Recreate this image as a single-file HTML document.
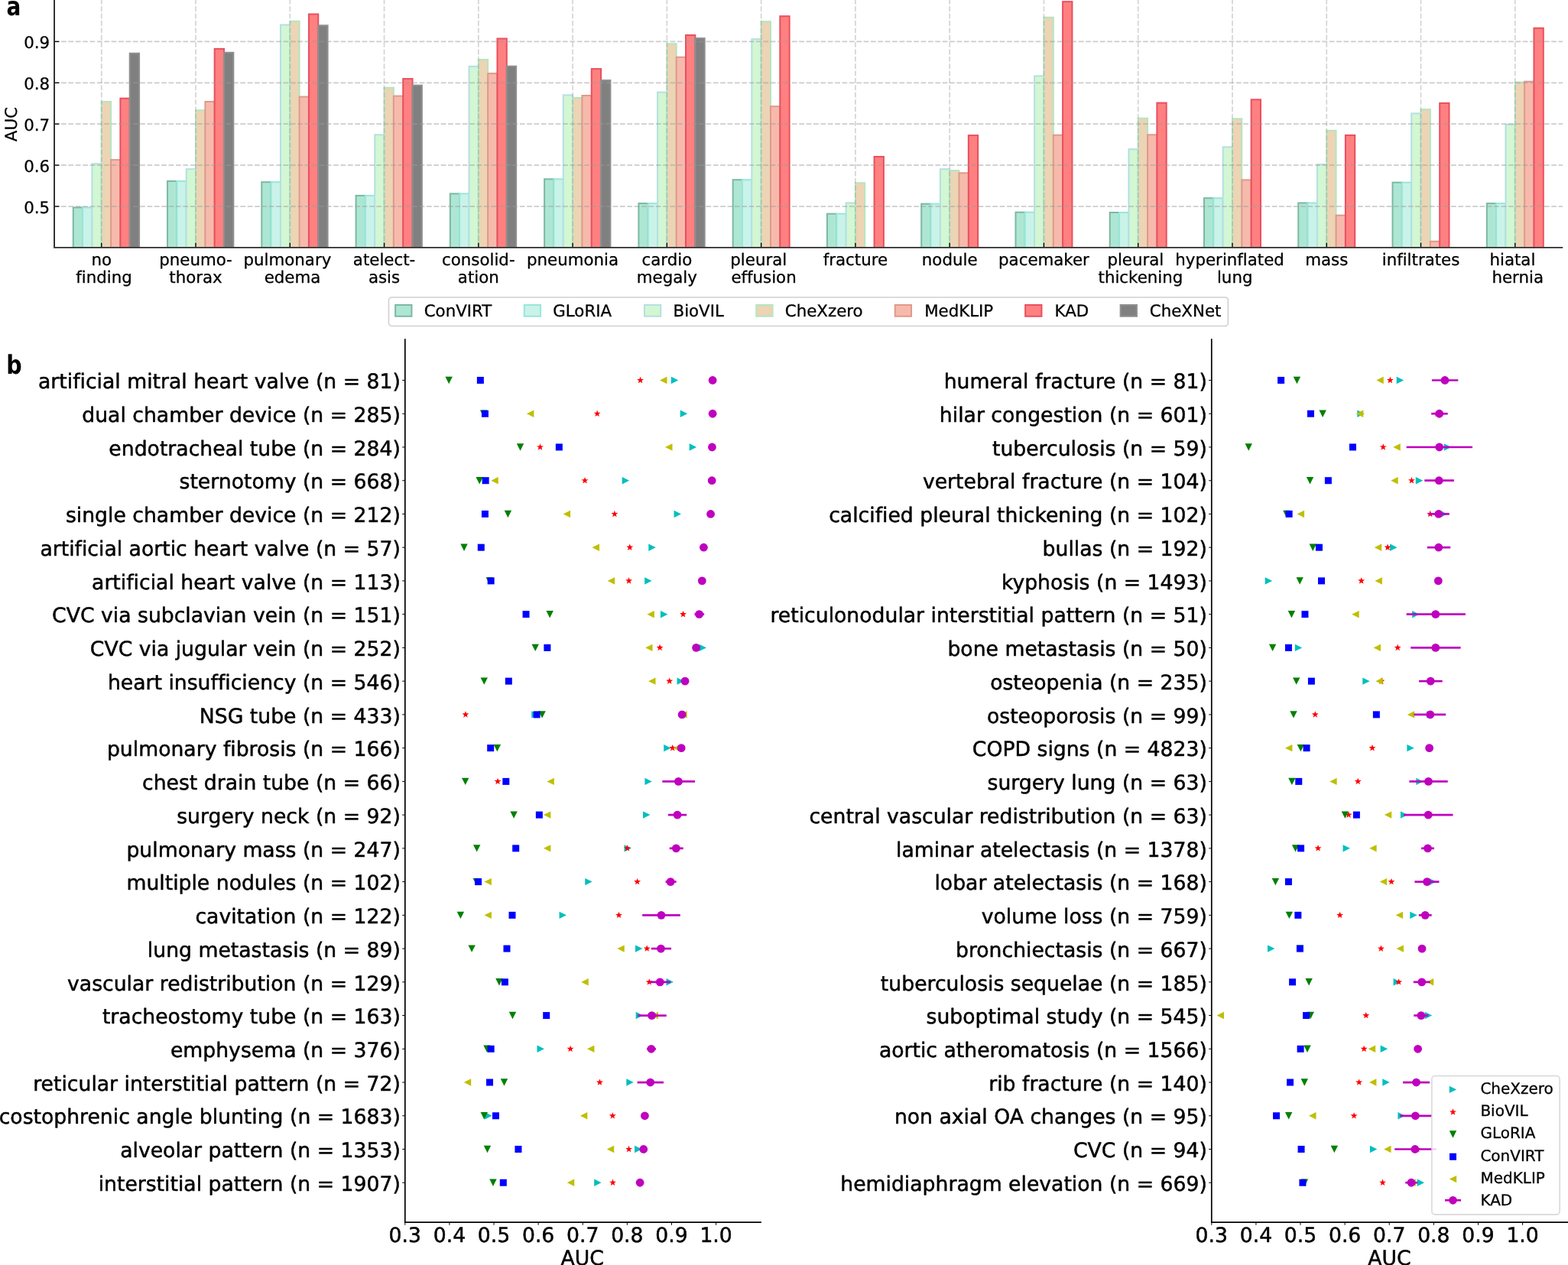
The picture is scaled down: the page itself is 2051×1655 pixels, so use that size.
<!DOCTYPE html>
<html lang="en"><head><meta charset="utf-8"><title>Figure</title>
<style>html,body{margin:0;padding:0;background:#fff}body{width:2051px;height:1655px;overflow:hidden}svg{display:block}</style>
</head><body>
<svg width="2051" height="1655" viewBox="0 0 2051 1655" font-family="'DejaVu Sans','Liberation Sans',sans-serif" text-rendering="geometricPrecision" style="font-variant-ligatures:none;font-kerning:normal">
<style>text{stroke:#000;stroke-width:0.3px;stroke-linejoin:round}.big text{stroke-width:0.5px}</style>
<rect width="2051" height="1655" fill="#fff"/>
<defs><clipPath id="axa"><rect x="71.05" y="-10" width="1973.15" height="333.85"/></clipPath></defs>
<g stroke-linejoin="miter" clip-path="url(#axa)">
<g fill="#ade7d4" stroke="#7db8a4" stroke-width="2.0">
<rect x="95.77" y="271.5" width="12.33" height="55.35"/>
<rect x="219.04" y="237" width="12.33" height="89.85"/>
<rect x="342.31" y="238.2" width="12.33" height="88.65"/>
<rect x="465.58" y="255.9" width="12.33" height="70.95"/>
<rect x="588.85" y="253.4" width="12.33" height="73.45"/>
<rect x="712.12" y="234.3" width="12.33" height="92.55"/>
<rect x="835.39" y="266.1" width="12.33" height="60.75"/>
<rect x="958.66" y="235.2" width="12.33" height="91.65"/>
<rect x="1081.93" y="279.7" width="12.33" height="47.15"/>
<rect x="1205.2" y="266.7" width="12.33" height="60.15"/>
<rect x="1328.47" y="277.7" width="12.33" height="49.15"/>
<rect x="1451.74" y="278" width="12.33" height="48.85"/>
<rect x="1575.01" y="259.2" width="12.33" height="67.65"/>
<rect x="1698.28" y="265.5" width="12.33" height="61.35"/>
<rect x="1821.55" y="238.7" width="12.33" height="88.15"/>
<rect x="1944.82" y="266.1" width="12.33" height="60.75"/>
</g>
<g fill="#c9f3e9" stroke="#98e7d9" stroke-width="2.0">
<rect x="108.1" y="271.5" width="12.33" height="55.35"/>
<rect x="231.37" y="237" width="12.33" height="89.85"/>
<rect x="354.64" y="238.2" width="12.33" height="88.65"/>
<rect x="477.91" y="255.9" width="12.33" height="70.95"/>
<rect x="601.18" y="253.4" width="12.33" height="73.45"/>
<rect x="724.45" y="234.3" width="12.33" height="92.55"/>
<rect x="847.72" y="266.1" width="12.33" height="60.75"/>
<rect x="970.99" y="235.2" width="12.33" height="91.65"/>
<rect x="1094.26" y="279.7" width="12.33" height="47.15"/>
<rect x="1217.53" y="266.7" width="12.33" height="60.15"/>
<rect x="1340.8" y="277.7" width="12.33" height="49.15"/>
<rect x="1464.07" y="278" width="12.33" height="48.85"/>
<rect x="1587.34" y="259.2" width="12.33" height="67.65"/>
<rect x="1710.61" y="265.5" width="12.33" height="61.35"/>
<rect x="1833.88" y="238.7" width="12.33" height="88.15"/>
<rect x="1957.15" y="266.1" width="12.33" height="60.75"/>
</g>
<g fill="#d3f6d3" stroke="#b4e0e3" stroke-width="2.0">
<rect x="120.42" y="214.3" width="12.33" height="112.55"/>
<rect x="243.69" y="221.2" width="12.33" height="105.65"/>
<rect x="366.96" y="32.5" width="12.33" height="294.35"/>
<rect x="490.23" y="176.3" width="12.33" height="150.55"/>
<rect x="613.5" y="86.9" width="12.33" height="239.95"/>
<rect x="736.77" y="124.4" width="12.33" height="202.45"/>
<rect x="860.04" y="120.7" width="12.33" height="206.15"/>
<rect x="983.31" y="51.2" width="12.33" height="275.65"/>
<rect x="1106.58" y="265.5" width="12.33" height="61.35"/>
<rect x="1229.85" y="221.2" width="12.33" height="105.65"/>
<rect x="1353.12" y="99.4" width="12.33" height="227.45"/>
<rect x="1476.39" y="195.2" width="12.33" height="131.65"/>
<rect x="1599.66" y="192.3" width="12.33" height="134.55"/>
<rect x="1722.93" y="215.1" width="12.33" height="111.75"/>
<rect x="1846.2" y="148.4" width="12.33" height="178.45"/>
<rect x="1969.47" y="162.8" width="12.33" height="164.05"/>
</g>
<g fill="#ecd4b4" stroke="#b3e6c0" stroke-width="2.0">
<rect x="132.75" y="133" width="12.33" height="193.85"/>
<rect x="256.02" y="144.3" width="12.33" height="182.55"/>
<rect x="379.29" y="27.8" width="12.33" height="299.05"/>
<rect x="502.56" y="114.7" width="12.33" height="212.15"/>
<rect x="625.83" y="78" width="12.33" height="248.85"/>
<rect x="749.1" y="127.9" width="12.33" height="198.95"/>
<rect x="872.37" y="57.3" width="12.33" height="269.55"/>
<rect x="995.64" y="28.2" width="12.33" height="298.65"/>
<rect x="1118.91" y="239.3" width="12.33" height="87.55"/>
<rect x="1242.18" y="223.1" width="12.33" height="103.75"/>
<rect x="1365.45" y="22.7" width="12.33" height="304.15"/>
<rect x="1488.72" y="154.8" width="12.33" height="172.05"/>
<rect x="1611.99" y="155.4" width="12.33" height="171.45"/>
<rect x="1735.26" y="170.8" width="12.33" height="156.05"/>
<rect x="1858.53" y="143.1" width="12.33" height="183.75"/>
<rect x="1981.8" y="107.6" width="12.33" height="219.25"/>
</g>
<g fill="#f6baac" stroke="#e0998b" stroke-width="2.0">
<rect x="145.08" y="209.1" width="12.33" height="117.75"/>
<rect x="268.35" y="133" width="12.33" height="193.85"/>
<rect x="391.62" y="126.6" width="12.33" height="200.25"/>
<rect x="514.89" y="125.6" width="12.33" height="201.25"/>
<rect x="638.16" y="96.1" width="12.33" height="230.75"/>
<rect x="761.43" y="125" width="12.33" height="201.85"/>
<rect x="884.7" y="74.8" width="12.33" height="252.05"/>
<rect x="1007.97" y="139.2" width="12.33" height="187.65"/>
<rect x="1254.51" y="226.3" width="12.33" height="100.55"/>
<rect x="1377.78" y="176.7" width="12.33" height="150.15"/>
<rect x="1501.05" y="176.3" width="12.33" height="150.55"/>
<rect x="1624.32" y="235.4" width="12.33" height="91.45"/>
<rect x="1747.59" y="281.7" width="12.33" height="45.15"/>
<rect x="1870.86" y="315.8" width="12.33" height="11.05"/>
<rect x="1994.13" y="106.7" width="12.33" height="220.15"/>
</g>
<g fill="#ff8080" stroke="#e85060" stroke-width="2.0">
<rect x="157.4" y="128.7" width="12.33" height="198.15"/>
<rect x="280.67" y="63.9" width="12.33" height="262.95"/>
<rect x="403.94" y="18.5" width="12.33" height="308.35"/>
<rect x="527.21" y="103.1" width="12.33" height="223.75"/>
<rect x="650.48" y="50.5" width="12.33" height="276.35"/>
<rect x="773.75" y="90.1" width="12.33" height="236.75"/>
<rect x="897.02" y="46" width="12.33" height="280.85"/>
<rect x="1020.29" y="21.2" width="12.33" height="305.65"/>
<rect x="1143.56" y="205" width="12.33" height="121.85"/>
<rect x="1266.83" y="177.1" width="12.33" height="149.75"/>
<rect x="1390.1" y="2.15" width="12.33" height="324.7"/>
<rect x="1513.37" y="134.6" width="12.33" height="192.25"/>
<rect x="1636.64" y="130.3" width="12.33" height="196.55"/>
<rect x="1759.91" y="176.9" width="12.33" height="149.95"/>
<rect x="1883.18" y="134.9" width="12.33" height="191.95"/>
<rect x="2006.45" y="36.8" width="12.33" height="290.05"/>
</g>
<g fill="#808080" stroke="#8f8f8f" stroke-width="2.0">
<rect x="169.73" y="69.8" width="12.33" height="257.05"/>
<rect x="293" y="68.8" width="12.33" height="258.05"/>
<rect x="416.27" y="33.3" width="12.33" height="293.55"/>
<rect x="539.54" y="111.7" width="12.33" height="215.15"/>
<rect x="662.81" y="86.7" width="12.33" height="240.15"/>
<rect x="786.08" y="105.1" width="12.33" height="221.75"/>
<rect x="909.35" y="50.1" width="12.33" height="276.75"/>
</g>
</g>
<g stroke="#999" stroke-opacity="0.5" stroke-width="1.8" stroke-dasharray="6.7 2.671" fill="none">
<path d="M70.7 270.04H2044.2"/>
<path d="M70.7 216.13H2044.2"/>
<path d="M70.7 162.22H2044.2"/>
<path d="M70.7 108.31H2044.2"/>
<path d="M70.7 54.4H2044.2"/>
</g>
<g stroke="#999" stroke-opacity="0.42" stroke-width="1.7" stroke-dasharray="6.7 2.673" fill="none">
<path d="M132.75 324.3V-10"/>
<path d="M256.02 324.3V-10"/>
<path d="M379.29 324.3V-10"/>
<path d="M502.56 324.3V-10"/>
<path d="M625.83 324.3V-10"/>
<path d="M749.1 324.3V-10"/>
<path d="M872.37 324.3V-10"/>
<path d="M995.64 324.3V-10"/>
<path d="M1118.91 324.3V-10"/>
<path d="M1242.18 324.3V-10"/>
<path d="M1365.45 324.3V-10"/>
<path d="M1488.72 324.3V-10"/>
<path d="M1611.99 324.3V-10"/>
<path d="M1735.26 324.3V-10"/>
<path d="M1858.53 324.3V-10"/>
<path d="M1981.8 324.3V-10"/>
</g>
<g stroke="#000" stroke-width="1.3" fill="none">
<path d="M132.75 323.85v-6.2"/>
<path d="M256.02 323.85v-6.2"/>
<path d="M379.29 323.85v-6.2"/>
<path d="M502.56 323.85v-6.2"/>
<path d="M625.83 323.85v-6.2"/>
<path d="M749.1 323.85v-6.2"/>
<path d="M872.37 323.85v-6.2"/>
<path d="M995.64 323.85v-6.2"/>
<path d="M1118.91 323.85v-6.2"/>
<path d="M1242.18 323.85v-6.2"/>
<path d="M1365.45 323.85v-6.2"/>
<path d="M1488.72 323.85v-6.2"/>
<path d="M1611.99 323.85v-6.2"/>
<path d="M1735.26 323.85v-6.2"/>
<path d="M1858.53 323.85v-6.2"/>
<path d="M1981.8 323.85v-6.2"/>
<path d="M71.05 270.04h6.4"/>
<path d="M71.05 216.13h6.4"/>
<path d="M71.05 162.22h6.4"/>
<path d="M71.05 108.31h6.4"/>
<path d="M71.05 54.4h6.4"/>
</g>
<path d="M71.05 -5V323.85H2043.3" stroke="#2b2b2b" stroke-width="1.9" fill="none" stroke-linecap="square"/>
<g font-size="21.33" text-anchor="end" fill="#000">
<text x="65.1" y="278.54">0.5</text>
<text x="65.1" y="224.63">0.6</text>
<text x="65.1" y="170.72">0.7</text>
<text x="65.1" y="116.81">0.8</text>
<text x="65.1" y="62.9">0.9</text>
</g>
<g font-size="21.33" text-anchor="middle" fill="#000">
<text x="132.75" y="346.9">no</text>
<text x="136.05" y="370.2">finding</text>
<text x="256.02" y="346.9">pneumo-</text>
<text x="256.02" y="370.2">thorax</text>
<text x="375.89" y="346.9">pulmonary</text>
<text x="382.49" y="370.2">edema</text>
<text x="502.56" y="346.9">atelect-</text>
<text x="502.56" y="370.2">asis</text>
<text x="625.83" y="346.9">consolid-</text>
<text x="625.83" y="370.2">ation</text>
<text x="749.1" y="346.9">pneumonia</text>
<text x="872.37" y="346.9">cardio</text>
<text x="872.37" y="370.2">megaly</text>
<text x="992.24" y="346.9">pleural</text>
<text x="999.04" y="370.2">effusion</text>
<text x="1118.91" y="346.9">fracture</text>
<text x="1242.18" y="346.9">nodule</text>
<text x="1365.45" y="346.9">pacemaker</text>
<text x="1485.32" y="346.9">pleural</text>
<text x="1491.92" y="370.2">thickening</text>
<text x="1608.59" y="346.9">hyperinflated</text>
<text x="1615.19" y="370.2">lung</text>
<text x="1735.26" y="346.9">mass</text>
<text x="1858.53" y="346.9">infiltrates</text>
<text x="1978.4" y="346.9">hiatal</text>
<text x="1985.2" y="370.2">hernia</text>
</g>
<text transform="translate(21.6 162.6) rotate(-90)" font-size="21.33" text-anchor="middle" fill="#000">AUC</text>
<text transform="translate(8.4 19.8) scale(0.82 1)" font-weight="bold" font-size="34" fill="#000" style="stroke-width:0">a</text>
<text transform="translate(8.2 489.0) scale(0.84 1)" font-weight="bold" font-size="34" fill="#000" style="stroke-width:0">b</text>
<rect x="508.5" y="389" width="1097.9" height="37.5" rx="4" ry="4" fill="#fff" fill-opacity="0.8" stroke="#d0d0d0" stroke-width="1.6"/>
<rect x="517.15" y="399.0" width="21.3" height="14.8" fill="#ade7d4" stroke="#7db8a4" stroke-width="2.0"/>
<text x="554.73" y="413.8" font-size="21.33" fill="#000">ConVIRT</text>
<rect x="685.75" y="399.0" width="21.3" height="14.8" fill="#c9f3e9" stroke="#98e7d9" stroke-width="2.0"/>
<text x="723.33" y="413.8" font-size="21.33" fill="#000">GLoRIA</text>
<rect x="842.95" y="399.0" width="21.3" height="14.8" fill="#d3f6d3" stroke="#b4e0e3" stroke-width="2.0"/>
<text x="880.53" y="413.8" font-size="21.33" fill="#000">BioVIL</text>
<rect x="989.25" y="399.0" width="21.3" height="14.8" fill="#ecd4b4" stroke="#b3e6c0" stroke-width="2.0"/>
<text x="1026.83" y="413.8" font-size="21.33" fill="#000">CheXzero</text>
<rect x="1170.75" y="399.0" width="21.3" height="14.8" fill="#f6baac" stroke="#e0998b" stroke-width="2.0"/>
<text x="1209.13" y="413.8" font-size="21.33" fill="#000">MedKLIP</text>
<rect x="1341.15" y="399.0" width="21.3" height="14.8" fill="#ff8080" stroke="#e85060" stroke-width="2.0"/>
<text x="1379.53" y="413.8" font-size="21.33" fill="#000">KAD</text>
<rect x="1465.65" y="399.0" width="21.3" height="14.8" fill="#808080" stroke="#8f8f8f" stroke-width="2.0"/>
<text x="1503.83" y="413.8" font-size="21.33" fill="#000">CheXNet</text>
<g>
<path d="M887.22 497.5L877.82 492.8V502.2Z" fill="#00bfbf"/>
<path d="M899.15 541.24L889.75 536.54V545.94Z" fill="#00bfbf"/>
<path d="M911.09 584.98L901.69 580.28V589.68Z" fill="#00bfbf"/>
<path d="M823.09 628.72L813.69 624.02V633.42Z" fill="#00bfbf"/>
<path d="M890.96 672.46L881.56 667.76V677.16Z" fill="#00bfbf"/>
<path d="M857.73 716.2L848.33 711.5V720.9Z" fill="#00bfbf"/>
<path d="M852.58 759.94L843.18 755.24V764.64Z" fill="#00bfbf"/>
<path d="M873.41 803.68L864.01 798.98V808.38Z" fill="#00bfbf"/>
<path d="M923.96 847.42L914.56 842.72V852.12Z" fill="#00bfbf"/>
<path d="M894.94 891.16L885.54 886.46V895.86Z" fill="#00bfbf"/>
<path d="M704.67 934.9L695.27 930.2V939.6Z" fill="#00bfbf"/>
<path d="M877.62 978.64L868.22 973.94V983.34Z" fill="#00bfbf"/>
<path d="M852.81 1022.38L843.41 1017.68V1027.08Z" fill="#00bfbf"/>
<path d="M850.47 1066.12L841.07 1061.42V1070.82Z" fill="#00bfbf"/>
<path d="M825.9 1109.86L816.5 1105.16V1114.56Z" fill="#00bfbf"/>
<path d="M774.65 1153.6L765.25 1148.9V1158.3Z" fill="#00bfbf"/>
<path d="M740.95 1197.34L731.55 1192.64V1202.04Z" fill="#00bfbf"/>
<path d="M840.41 1241.08L831.01 1236.38V1245.78Z" fill="#00bfbf"/>
<path d="M880.9 1284.82L871.5 1280.12V1289.52Z" fill="#00bfbf"/>
<path d="M841.11 1328.56L831.71 1323.86V1333.26Z" fill="#00bfbf"/>
<path d="M711.93 1372.3L702.53 1367.6V1377Z" fill="#00bfbf"/>
<path d="M828.71 1416.04L819.31 1411.34V1420.74Z" fill="#00bfbf"/>
<path d="M643.59 1459.78L634.19 1455.08V1464.48Z" fill="#00bfbf"/>
<path d="M839.47 1503.52L830.07 1498.82V1508.22Z" fill="#00bfbf"/>
<path d="M786.58 1547.26L777.18 1542.56V1551.96Z" fill="#00bfbf"/>
<path d="M837.58 492.85L838.73 495.92L842 496.06L839.44 498.1L840.31 501.26L837.58 499.45L834.85 501.26L835.72 498.1L833.16 496.06L836.43 495.92Z" fill="#ff0000"/>
<path d="M781.18 536.59L782.33 539.66L785.6 539.8L783.04 541.84L783.91 545L781.18 543.19L778.45 545L779.32 541.84L776.76 539.8L780.03 539.66Z" fill="#ff0000"/>
<path d="M706.52 580.33L707.67 583.4L710.95 583.54L708.38 585.58L709.26 588.74L706.52 586.93L703.79 588.74L704.67 585.58L702.1 583.54L705.38 583.4Z" fill="#ff0000"/>
<path d="M765.03 624.07L766.18 627.14L769.45 627.28L766.89 629.32L767.76 632.48L765.03 630.67L762.3 632.48L763.17 629.32L760.61 627.28L763.88 627.14Z" fill="#ff0000"/>
<path d="M803.88 667.81L805.03 670.88L808.3 671.02L805.74 673.06L806.61 676.22L803.88 674.41L801.15 676.22L802.02 673.06L799.46 671.02L802.73 670.88Z" fill="#ff0000"/>
<path d="M823.77 711.55L824.92 714.62L828.2 714.76L825.63 716.8L826.51 719.96L823.77 718.15L821.04 719.96L821.92 716.8L819.35 714.76L822.63 714.62Z" fill="#ff0000"/>
<path d="M822.6 755.29L823.75 758.36L827.03 758.5L824.46 760.54L825.34 763.7L822.6 761.89L819.87 763.7L820.75 760.54L818.18 758.5L821.46 758.36Z" fill="#ff0000"/>
<path d="M893.52 799.03L894.66 802.1L897.94 802.24L895.37 804.28L896.25 807.44L893.52 805.63L890.78 807.44L891.66 804.28L889.09 802.24L892.37 802.1Z" fill="#ff0000"/>
<path d="M863.09 842.77L864.24 845.84L867.51 845.98L864.95 848.02L865.82 851.18L863.09 849.37L860.36 851.18L861.23 848.02L858.67 845.98L861.94 845.84Z" fill="#ff0000"/>
<path d="M875.73 886.51L876.88 889.58L880.15 889.72L877.59 891.76L878.46 894.92L875.73 893.11L873 894.92L873.87 891.76L871.31 889.72L874.58 889.58Z" fill="#ff0000"/>
<path d="M608.93 930.25L610.08 933.32L613.35 933.46L610.79 935.5L611.67 938.66L608.93 936.85L606.2 938.66L607.07 935.5L604.51 933.46L607.78 933.32Z" fill="#ff0000"/>
<path d="M879.71 973.99L880.86 977.06L884.13 977.2L881.56 979.24L882.44 982.4L879.71 980.59L876.97 982.4L877.85 979.24L875.29 977.2L878.56 977.06Z" fill="#ff0000"/>
<path d="M651.06 1017.73L652.21 1020.8L655.48 1020.94L652.92 1022.98L653.79 1026.14L651.06 1024.33L648.32 1026.14L649.2 1022.98L646.64 1020.94L649.91 1020.8Z" fill="#ff0000"/>
<path d="M886.03 1061.47L887.17 1064.54L890.45 1064.68L887.88 1066.72L888.76 1069.88L886.03 1068.07L883.29 1069.88L884.17 1066.72L881.6 1064.68L884.88 1064.54Z" fill="#ff0000"/>
<path d="M820.5 1105.21L821.65 1108.28L824.92 1108.42L822.35 1110.46L823.23 1113.62L820.5 1111.81L817.76 1113.62L818.64 1110.46L816.07 1108.42L819.35 1108.28Z" fill="#ff0000"/>
<path d="M833.6 1148.95L834.75 1152.02L838.03 1152.16L835.46 1154.2L836.34 1157.36L833.6 1155.55L830.87 1157.36L831.75 1154.2L829.18 1152.16L832.46 1152.02Z" fill="#ff0000"/>
<path d="M809.5 1192.69L810.65 1195.76L813.92 1195.9L811.36 1197.94L812.23 1201.1L809.5 1199.29L806.76 1201.1L807.64 1197.94L805.08 1195.9L808.35 1195.76Z" fill="#ff0000"/>
<path d="M846.24 1236.43L847.39 1239.5L850.66 1239.64L848.1 1241.68L848.97 1244.84L846.24 1243.03L843.51 1244.84L844.38 1241.68L841.82 1239.64L845.09 1239.5Z" fill="#ff0000"/>
<path d="M849.28 1280.17L850.43 1283.24L853.71 1283.38L851.14 1285.42L852.02 1288.58L849.28 1286.77L846.55 1288.58L847.43 1285.42L844.86 1283.38L848.14 1283.24Z" fill="#ff0000"/>
<path d="M852.56 1323.91L853.71 1326.98L856.98 1327.12L854.42 1329.16L855.29 1332.32L852.56 1330.51L849.83 1332.32L850.7 1329.16L848.14 1327.12L851.41 1326.98Z" fill="#ff0000"/>
<path d="M746.08 1367.65L747.22 1370.72L750.5 1370.86L747.93 1372.9L748.81 1376.06L746.08 1374.25L743.34 1376.06L744.22 1372.9L741.65 1370.86L744.93 1370.72Z" fill="#ff0000"/>
<path d="M784.46 1411.39L785.6 1414.46L788.88 1414.6L786.31 1416.64L787.19 1419.8L784.46 1417.99L781.72 1419.8L782.6 1416.64L780.03 1414.6L783.31 1414.46Z" fill="#ff0000"/>
<path d="M801.31 1455.13L802.45 1458.2L805.73 1458.34L803.16 1460.38L804.04 1463.54L801.31 1461.73L798.57 1463.54L799.45 1460.38L796.88 1458.34L800.16 1458.2Z" fill="#ff0000"/>
<path d="M822.6 1498.87L823.75 1501.94L827.03 1502.08L824.46 1504.12L825.34 1507.28L822.6 1505.47L819.87 1507.28L820.75 1504.12L818.18 1502.08L821.46 1501.94Z" fill="#ff0000"/>
<path d="M801.54 1542.61L802.69 1545.68L805.96 1545.82L803.4 1547.86L804.27 1551.02L801.54 1549.21L798.81 1551.02L799.68 1547.86L797.12 1545.82L800.39 1545.68Z" fill="#ff0000"/>
<path d="M587.17 502.2L582.47 492.8H591.87Z" fill="#008000"/>
<path d="M632.57 545.94L627.87 536.54H637.27Z" fill="#008000"/>
<path d="M680.55 589.68L675.85 580.28H685.25Z" fill="#008000"/>
<path d="M627.19 633.42L622.49 624.02H631.89Z" fill="#008000"/>
<path d="M664.4 677.16L659.7 667.76H669.1Z" fill="#008000"/>
<path d="M607.06 720.9L602.36 711.5H611.76Z" fill="#008000"/>
<path d="M640.29 764.64L635.59 755.24H644.99Z" fill="#008000"/>
<path d="M719.16 808.38L714.46 798.98H723.86Z" fill="#008000"/>
<path d="M700.2 852.12L695.5 842.72H704.9Z" fill="#008000"/>
<path d="M633.27 895.86L628.57 886.46H637.97Z" fill="#008000"/>
<path d="M709.1 939.6L704.4 930.2H713.8Z" fill="#008000"/>
<path d="M650.36 983.34L645.66 973.94H655.06Z" fill="#008000"/>
<path d="M608.7 1027.08L604 1017.68H613.4Z" fill="#008000"/>
<path d="M672.12 1070.82L667.42 1061.42H676.82Z" fill="#008000"/>
<path d="M623.68 1114.56L618.98 1105.16H628.38Z" fill="#008000"/>
<path d="M623.21 1158.3L618.51 1148.9H627.91Z" fill="#008000"/>
<path d="M602.38 1202.04L597.68 1192.64H607.08Z" fill="#008000"/>
<path d="M617.12 1245.78L612.42 1236.38H621.82Z" fill="#008000"/>
<path d="M652.93 1289.52L648.23 1280.12H657.63Z" fill="#008000"/>
<path d="M670.48 1333.26L665.78 1323.86H675.18Z" fill="#008000"/>
<path d="M637.02 1377L632.32 1367.6H641.72Z" fill="#008000"/>
<path d="M659.48 1420.74L654.78 1411.34H664.18Z" fill="#008000"/>
<path d="M633.27 1464.48L628.57 1455.08H637.97Z" fill="#008000"/>
<path d="M637.48 1508.22L632.78 1498.82H642.18Z" fill="#008000"/>
<path d="M644.97 1551.96L640.27 1542.56H649.67Z" fill="#008000"/>
<rect x="623.86" y="493" width="9" height="9" fill="#0000ff"/>
<rect x="629.94" y="536.74" width="9" height="9" fill="#0000ff"/>
<rect x="726.83" y="580.48" width="9" height="9" fill="#0000ff"/>
<rect x="630.64" y="624.22" width="9" height="9" fill="#0000ff"/>
<rect x="629.94" y="667.96" width="9" height="9" fill="#0000ff"/>
<rect x="624.79" y="711.7" width="9" height="9" fill="#0000ff"/>
<rect x="637.66" y="755.44" width="9" height="9" fill="#0000ff"/>
<rect x="683.54" y="799.18" width="9" height="9" fill="#0000ff"/>
<rect x="711.38" y="842.92" width="9" height="9" fill="#0000ff"/>
<rect x="660.83" y="886.66" width="9" height="9" fill="#0000ff"/>
<rect x="697.58" y="930.4" width="9" height="9" fill="#0000ff"/>
<rect x="637.2" y="974.14" width="9" height="9" fill="#0000ff"/>
<rect x="657.32" y="1017.88" width="9" height="9" fill="#0000ff"/>
<rect x="700.85" y="1061.62" width="9" height="9" fill="#0000ff"/>
<rect x="670.2" y="1105.36" width="9" height="9" fill="#0000ff"/>
<rect x="621.05" y="1149.1" width="9" height="9" fill="#0000ff"/>
<rect x="665.51" y="1192.84" width="9" height="9" fill="#0000ff"/>
<rect x="658.49" y="1236.58" width="9" height="9" fill="#0000ff"/>
<rect x="655.92" y="1280.32" width="9" height="9" fill="#0000ff"/>
<rect x="710.21" y="1324.06" width="9" height="9" fill="#0000ff"/>
<rect x="637.66" y="1367.8" width="9" height="9" fill="#0000ff"/>
<rect x="636.03" y="1411.54" width="9" height="9" fill="#0000ff"/>
<rect x="643.98" y="1455.28" width="9" height="9" fill="#0000ff"/>
<rect x="673.47" y="1499.02" width="9" height="9" fill="#0000ff"/>
<rect x="653.81" y="1542.76" width="9" height="9" fill="#0000ff"/>
<path d="M863.07 497.5L872.47 492.8V502.2Z" fill="#bfbf00"/>
<path d="M688.95 541.24L698.35 536.54V545.94Z" fill="#bfbf00"/>
<path d="M870.09 584.98L879.49 580.28V589.68Z" fill="#bfbf00"/>
<path d="M642.38 628.72L651.78 624.02V633.42Z" fill="#bfbf00"/>
<path d="M736.69 672.46L746.09 667.76V677.16Z" fill="#bfbf00"/>
<path d="M774.61 716.2L784.01 711.5V720.9Z" fill="#bfbf00"/>
<path d="M794.73 759.94L804.13 755.24V764.64Z" fill="#bfbf00"/>
<path d="M846.46 803.68L855.86 798.98V808.38Z" fill="#bfbf00"/>
<path d="M844.12 847.42L853.52 842.72V852.12Z" fill="#bfbf00"/>
<path d="M848.09 891.16L857.49 886.46V895.86Z" fill="#bfbf00"/>
<path d="M889.28 934.9L898.68 930.2V939.6Z" fill="#bfbf00"/>
<path d="M880.39 978.64L889.79 973.94V983.34Z" fill="#bfbf00"/>
<path d="M715.4 1022.38L724.8 1017.68V1027.08Z" fill="#bfbf00"/>
<path d="M710.95 1066.12L720.35 1061.42V1070.82Z" fill="#bfbf00"/>
<path d="M710.95 1109.86L720.35 1105.16V1114.56Z" fill="#bfbf00"/>
<path d="M633.49 1153.6L642.89 1148.9V1158.3Z" fill="#bfbf00"/>
<path d="M633.49 1197.34L642.89 1192.64V1202.04Z" fill="#bfbf00"/>
<path d="M807.37 1241.08L816.77 1236.38V1245.78Z" fill="#bfbf00"/>
<path d="M760.33 1284.82L769.73 1280.12V1289.52Z" fill="#bfbf00"/>
<path d="M851.6 1328.56L861 1323.86V1333.26Z" fill="#bfbf00"/>
<path d="M768.05 1372.3L777.45 1367.6V1377Z" fill="#bfbf00"/>
<path d="M606.81 1416.04L616.21 1411.34V1420.74Z" fill="#bfbf00"/>
<path d="M758.93 1459.78L768.33 1455.08V1464.48Z" fill="#bfbf00"/>
<path d="M793.8 1503.52L803.2 1498.82V1508.22Z" fill="#bfbf00"/>
<path d="M741.84 1547.26L751.24 1542.56V1551.96Z" fill="#bfbf00"/>
<circle cx="932.13" cy="497.5" r="5.4" fill="#bf00bf"/>
<circle cx="932.13" cy="541.24" r="5.4" fill="#bf00bf"/>
<circle cx="931.43" cy="584.98" r="5.4" fill="#bf00bf"/>
<circle cx="931.19" cy="628.72" r="5.4" fill="#bf00bf"/>
<circle cx="929.56" cy="672.46" r="5.4" fill="#bf00bf"/>
<circle cx="920.43" cy="716.2" r="5.4" fill="#bf00bf"/>
<circle cx="918.32" cy="759.94" r="5.4" fill="#bf00bf"/>
<path d="M908.49 803.68H921.13" stroke="#bf00bf" stroke-width="2.7" fill="none"/>
<circle cx="914.58" cy="803.68" r="5.4" fill="#bf00bf"/>
<circle cx="910.6" cy="847.42" r="5.4" fill="#bf00bf"/>
<circle cx="896.09" cy="891.16" r="5.4" fill="#bf00bf"/>
<circle cx="892.11" cy="934.9" r="5.4" fill="#bf00bf"/>
<circle cx="891.18" cy="978.64" r="5.4" fill="#bf00bf"/>
<path d="M866.37 1022.38H908.96" stroke="#bf00bf" stroke-width="2.7" fill="none"/>
<circle cx="887.43" cy="1022.38" r="5.4" fill="#bf00bf"/>
<path d="M873.86 1066.12H898.2" stroke="#bf00bf" stroke-width="2.7" fill="none"/>
<circle cx="886.03" cy="1066.12" r="5.4" fill="#bf00bf"/>
<path d="M875.73 1109.86H893.75" stroke="#bf00bf" stroke-width="2.7" fill="none"/>
<circle cx="884.39" cy="1109.86" r="5.4" fill="#bf00bf"/>
<path d="M870.58 1153.6H884.62" stroke="#bf00bf" stroke-width="2.7" fill="none"/>
<circle cx="877.13" cy="1153.6" r="5.4" fill="#bf00bf"/>
<path d="M840.16 1197.34H889.77" stroke="#bf00bf" stroke-width="2.7" fill="none"/>
<circle cx="864.96" cy="1197.34" r="5.4" fill="#bf00bf"/>
<path d="M851.86 1241.08H878.07" stroke="#bf00bf" stroke-width="2.7" fill="none"/>
<circle cx="864.5" cy="1241.08" r="5.4" fill="#bf00bf"/>
<path d="M849.99 1284.82H876.9" stroke="#bf00bf" stroke-width="2.7" fill="none"/>
<circle cx="863.33" cy="1284.82" r="5.4" fill="#bf00bf"/>
<path d="M834.07 1328.56H871.75" stroke="#bf00bf" stroke-width="2.7" fill="none"/>
<circle cx="852.56" cy="1328.56" r="5.4" fill="#bf00bf"/>
<path d="M846.24 1372.3H857.94" stroke="#bf00bf" stroke-width="2.7" fill="none"/>
<circle cx="851.86" cy="1372.3" r="5.4" fill="#bf00bf"/>
<path d="M833.6 1416.04H868.01" stroke="#bf00bf" stroke-width="2.7" fill="none"/>
<circle cx="850.69" cy="1416.04" r="5.4" fill="#bf00bf"/>
<circle cx="843.43" cy="1459.78" r="5.4" fill="#bf00bf"/>
<circle cx="841.79" cy="1503.52" r="5.4" fill="#bf00bf"/>
<circle cx="837.11" cy="1547.26" r="5.4" fill="#bf00bf"/>
</g>
<path d="M529.8 444.2V1599.2H995" stroke="#000" stroke-width="1.7" fill="none" stroke-linecap="square"/>
<g stroke="#000" stroke-width="1.0" fill="none">
<path d="M529.8 497.5h-3.6"/>
<path d="M529.8 541.24h-3.6"/>
<path d="M529.8 584.98h-3.6"/>
<path d="M529.8 628.72h-3.6"/>
<path d="M529.8 672.46h-3.6"/>
<path d="M529.8 716.2h-3.6"/>
<path d="M529.8 759.94h-3.6"/>
<path d="M529.8 803.68h-3.6"/>
<path d="M529.8 847.42h-3.6"/>
<path d="M529.8 891.16h-3.6"/>
<path d="M529.8 934.9h-3.6"/>
<path d="M529.8 978.64h-3.6"/>
<path d="M529.8 1022.38h-3.6"/>
<path d="M529.8 1066.12h-3.6"/>
<path d="M529.8 1109.86h-3.6"/>
<path d="M529.8 1153.6h-3.6"/>
<path d="M529.8 1197.34h-3.6"/>
<path d="M529.8 1241.08h-3.6"/>
<path d="M529.8 1284.82h-3.6"/>
<path d="M529.8 1328.56h-3.6"/>
<path d="M529.8 1372.3h-3.6"/>
<path d="M529.8 1416.04h-3.6"/>
<path d="M529.8 1459.78h-3.6"/>
<path d="M529.8 1503.52h-3.6"/>
<path d="M529.8 1547.26h-3.6"/>
<path d="M529.8 1599.2v3.6"/>
<path d="M587.91 1599.2v3.6"/>
<path d="M646.03 1599.2v3.6"/>
<path d="M704.14 1599.2v3.6"/>
<path d="M762.26 1599.2v3.6"/>
<path d="M820.37 1599.2v3.6"/>
<path d="M878.49 1599.2v3.6"/>
<path d="M936.6 1599.2v3.6"/>
</g>
<g class="big" font-size="26.67" text-anchor="end" fill="#000">
<text x="523.8" y="508.2">artificial mitral heart valve (n = 81)</text>
<text x="523.8" y="551.94">dual chamber device (n = 285)</text>
<text x="523.8" y="595.68">endotracheal tube (n = 284)</text>
<text x="523.8" y="639.42">sternotomy (n = 668)</text>
<text x="523.8" y="683.16">single chamber device (n = 212)</text>
<text x="523.8" y="726.9">artificial aortic heart valve (n = 57)</text>
<text x="523.8" y="770.64">artificial heart valve (n = 113)</text>
<text x="523.8" y="814.38">CVC via subclavian vein (n = 151)</text>
<text x="523.8" y="858.12">CVC via jugular vein (n = 252)</text>
<text x="523.8" y="901.86">heart insufficiency (n = 546)</text>
<text x="523.8" y="945.6">NSG tube (n = 433)</text>
<text x="523.8" y="989.34">pulmonary fibrosis (n = 166)</text>
<text x="523.8" y="1033.08">chest drain tube (n = 66)</text>
<text x="523.8" y="1076.82">surgery neck (n = 92)</text>
<text x="523.8" y="1120.56">pulmonary mass (n = 247)</text>
<text x="523.8" y="1164.3">multiple nodules (n = 102)</text>
<text x="523.8" y="1208.04">cavitation (n = 122)</text>
<text x="523.8" y="1251.78">lung metastasis (n = 89)</text>
<text x="523.8" y="1295.52">vascular redistribution (n = 129)</text>
<text x="523.8" y="1339.26">tracheostomy tube (n = 163)</text>
<text x="523.8" y="1383">emphysema (n = 376)</text>
<text x="523.8" y="1426.74">reticular interstitial pattern (n = 72)</text>
<text x="523.8" y="1470.48">costophrenic angle blunting (n = 1683)</text>
<text x="523.8" y="1514.22">alveolar pattern (n = 1353)</text>
<text x="523.8" y="1557.96">interstitial pattern (n = 1907)</text>
</g>
<g class="big" font-size="26.67" text-anchor="middle" fill="#000">
<text x="529.8" y="1625.2">0.3</text>
<text x="587.91" y="1625.2">0.4</text>
<text x="646.03" y="1625.2">0.5</text>
<text x="704.14" y="1625.2">0.6</text>
<text x="762.26" y="1625.2">0.7</text>
<text x="820.37" y="1625.2">0.8</text>
<text x="878.49" y="1625.2">0.9</text>
<text x="936.6" y="1625.2">1.0</text>
<text x="761.6" y="1654.9">AUC</text>
</g>
<g>
<path d="M1836.18 497.5L1826.78 492.8V502.2Z" fill="#00bfbf"/>
<path d="M1784.69 541.24L1775.29 536.54V545.94Z" fill="#00bfbf"/>
<path d="M1898.2 584.98L1888.8 580.28V589.68Z" fill="#00bfbf"/>
<path d="M1861.22 628.72L1851.82 624.02V633.42Z" fill="#00bfbf"/>
<path d="M1893.05 672.46L1883.65 667.76V677.16Z" fill="#00bfbf"/>
<path d="M1827.52 716.2L1818.12 711.5V720.9Z" fill="#00bfbf"/>
<path d="M1664.16 759.94L1654.76 755.24V764.64Z" fill="#00bfbf"/>
<path d="M1856.54 803.68L1847.14 798.98V808.38Z" fill="#00bfbf"/>
<path d="M1703.25 847.42L1693.85 842.72V852.12Z" fill="#00bfbf"/>
<path d="M1791.71 891.16L1782.31 886.46V895.86Z" fill="#00bfbf"/>
<path d="M1875.5 934.9L1866.1 930.2V939.6Z" fill="#00bfbf"/>
<path d="M1849.75 978.64L1840.35 973.94V983.34Z" fill="#00bfbf"/>
<path d="M1861.69 1022.38L1852.29 1017.68V1027.08Z" fill="#00bfbf"/>
<path d="M1841.33 1066.12L1831.93 1061.42V1070.82Z" fill="#00bfbf"/>
<path d="M1765.97 1109.86L1756.57 1105.16V1114.56Z" fill="#00bfbf"/>
<path d="M1878.77 1153.6L1869.37 1148.9V1158.3Z" fill="#00bfbf"/>
<path d="M1853.73 1197.34L1844.33 1192.64V1202.04Z" fill="#00bfbf"/>
<path d="M1667.44 1241.08L1658.04 1236.38V1245.78Z" fill="#00bfbf"/>
<path d="M1831.97 1284.82L1822.57 1280.12V1289.52Z" fill="#00bfbf"/>
<path d="M1873.15 1328.56L1863.75 1323.86V1333.26Z" fill="#00bfbf"/>
<path d="M1815.11 1372.3L1805.71 1367.6V1377Z" fill="#00bfbf"/>
<path d="M1817.69 1416.04L1808.29 1411.34V1420.74Z" fill="#00bfbf"/>
<path d="M1837.82 1459.78L1828.42 1455.08V1464.48Z" fill="#00bfbf"/>
<path d="M1801.31 1503.52L1791.91 1498.82V1508.22Z" fill="#00bfbf"/>
<path d="M1863.09 1547.26L1853.69 1542.56V1551.96Z" fill="#00bfbf"/>
<path d="M1818.37 492.85L1819.52 495.92L1822.79 496.06L1820.23 498.1L1821.11 501.26L1818.37 499.45L1815.64 501.26L1816.51 498.1L1813.95 496.06L1817.22 495.92Z" fill="#ff0000"/>
<path d="M1879.92 536.59L1881.07 539.66L1884.34 539.8L1881.78 541.84L1882.66 545L1879.92 543.19L1877.19 545L1878.07 541.84L1875.5 539.8L1878.77 539.66Z" fill="#ff0000"/>
<path d="M1809.24 580.33L1810.39 583.4L1813.67 583.54L1811.1 585.58L1811.98 588.74L1809.24 586.93L1806.51 588.74L1807.39 585.58L1804.82 583.54L1808.1 583.4Z" fill="#ff0000"/>
<path d="M1846.46 624.07L1847.6 627.14L1850.88 627.28L1848.31 629.32L1849.19 632.48L1846.46 630.67L1843.72 632.48L1844.6 629.32L1842.03 627.28L1845.31 627.14Z" fill="#ff0000"/>
<path d="M1870.8 667.81L1871.94 670.88L1875.22 671.02L1872.65 673.06L1873.53 676.22L1870.8 674.41L1868.06 676.22L1868.94 673.06L1866.37 671.02L1869.65 670.88Z" fill="#ff0000"/>
<path d="M1815.1 711.55L1816.24 714.62L1819.52 714.76L1816.95 716.8L1817.83 719.96L1815.1 718.15L1812.36 719.96L1813.24 716.8L1810.67 714.76L1813.95 714.62Z" fill="#ff0000"/>
<path d="M1780.69 755.29L1781.84 758.36L1785.12 758.5L1782.55 760.54L1783.43 763.7L1780.69 761.89L1777.96 763.7L1778.84 760.54L1776.27 758.5L1779.54 758.36Z" fill="#ff0000"/>
<path d="M1877.82 799.03L1878.96 802.1L1882.24 802.24L1879.67 804.28L1880.55 807.44L1877.82 805.63L1875.08 807.44L1875.96 804.28L1873.39 802.24L1876.67 802.1Z" fill="#ff0000"/>
<path d="M1828.2 842.77L1829.35 845.84L1832.62 845.98L1830.06 848.02L1830.93 851.18L1828.2 849.37L1825.47 851.18L1826.34 848.02L1823.78 845.98L1827.05 845.84Z" fill="#ff0000"/>
<path d="M1806.9 886.51L1808.05 889.58L1811.33 889.72L1808.76 891.76L1809.64 894.92L1806.9 893.11L1804.17 894.92L1805.05 891.76L1802.48 889.72L1805.76 889.58Z" fill="#ff0000"/>
<path d="M1720.31 930.25L1721.46 933.32L1724.73 933.46L1722.17 935.5L1723.05 938.66L1720.31 936.85L1717.58 938.66L1718.46 935.5L1715.89 933.46L1719.16 933.32Z" fill="#ff0000"/>
<path d="M1794.97 973.99L1796.12 977.06L1799.39 977.2L1796.83 979.24L1797.7 982.4L1794.97 980.59L1792.24 982.4L1793.11 979.24L1790.55 977.2L1793.82 977.06Z" fill="#ff0000"/>
<path d="M1776.25 1017.73L1777.39 1020.8L1780.67 1020.94L1778.1 1022.98L1778.98 1026.14L1776.25 1024.33L1773.51 1026.14L1774.39 1022.98L1771.82 1020.94L1775.1 1020.8Z" fill="#ff0000"/>
<path d="M1764.08 1061.47L1765.22 1064.54L1768.5 1064.68L1765.93 1066.72L1766.81 1069.88L1764.08 1068.07L1761.34 1069.88L1762.22 1066.72L1759.65 1064.68L1762.93 1064.54Z" fill="#ff0000"/>
<path d="M1724.06 1105.21L1725.2 1108.28L1728.48 1108.42L1725.91 1110.46L1726.79 1113.62L1724.06 1111.81L1721.32 1113.62L1722.2 1110.46L1719.63 1108.42L1722.91 1108.28Z" fill="#ff0000"/>
<path d="M1820.01 1148.95L1821.16 1152.02L1824.43 1152.16L1821.87 1154.2L1822.74 1157.36L1820.01 1155.55L1817.28 1157.36L1818.15 1154.2L1815.59 1152.16L1818.86 1152.02Z" fill="#ff0000"/>
<path d="M1752.61 1192.69L1753.76 1195.76L1757.03 1195.9L1754.47 1197.94L1755.34 1201.1L1752.61 1199.29L1749.88 1201.1L1750.75 1197.94L1748.19 1195.9L1751.46 1195.76Z" fill="#ff0000"/>
<path d="M1806.44 1236.43L1807.58 1239.5L1810.86 1239.64L1808.29 1241.68L1809.17 1244.84L1806.44 1243.03L1803.7 1244.84L1804.58 1241.68L1802.01 1239.64L1805.29 1239.5Z" fill="#ff0000"/>
<path d="M1829.61 1280.17L1830.75 1283.24L1834.03 1283.38L1831.46 1285.42L1832.34 1288.58L1829.61 1286.77L1826.87 1288.58L1827.75 1285.42L1825.18 1283.38L1828.46 1283.24Z" fill="#ff0000"/>
<path d="M1786.78 1323.91L1787.93 1326.98L1791.2 1327.12L1788.64 1329.16L1789.51 1332.32L1786.78 1330.51L1784.04 1332.32L1784.92 1329.16L1782.36 1327.12L1785.63 1326.98Z" fill="#ff0000"/>
<path d="M1784.2 1367.65L1785.35 1370.72L1788.63 1370.86L1786.06 1372.9L1786.94 1376.06L1784.2 1374.25L1781.47 1376.06L1782.35 1372.9L1779.78 1370.86L1783.06 1370.72Z" fill="#ff0000"/>
<path d="M1777.65 1411.39L1778.8 1414.46L1782.07 1414.6L1779.51 1416.64L1780.38 1419.8L1777.65 1417.99L1774.92 1419.8L1775.79 1416.64L1773.23 1414.6L1776.5 1414.46Z" fill="#ff0000"/>
<path d="M1771.1 1455.13L1772.25 1458.2L1775.52 1458.34L1772.95 1460.38L1773.83 1463.54L1771.1 1461.73L1768.36 1463.54L1769.24 1460.38L1766.68 1458.34L1769.95 1458.2Z" fill="#ff0000"/>
<path d="M1853.94 1498.87L1855.09 1501.94L1858.37 1502.08L1855.8 1504.12L1856.68 1507.28L1853.94 1505.47L1851.21 1507.28L1852.09 1504.12L1849.52 1502.08L1852.8 1501.94Z" fill="#ff0000"/>
<path d="M1808.54 1542.61L1809.69 1545.68L1812.97 1545.82L1810.4 1547.86L1811.28 1551.02L1808.54 1549.21L1805.81 1551.02L1806.69 1547.86L1804.12 1545.82L1807.39 1545.68Z" fill="#ff0000"/>
<path d="M1696.44 502.2L1691.74 492.8H1701.14Z" fill="#008000"/>
<path d="M1730.14 545.94L1725.44 536.54H1734.84Z" fill="#008000"/>
<path d="M1633.25 589.68L1628.55 580.28H1637.95Z" fill="#008000"/>
<path d="M1713.53 633.42L1708.83 624.02H1718.23Z" fill="#008000"/>
<path d="M1682.87 677.16L1678.17 667.76H1687.57Z" fill="#008000"/>
<path d="M1717.27 720.9L1712.57 711.5H1721.97Z" fill="#008000"/>
<path d="M1700.19 764.64L1695.49 755.24H1704.89Z" fill="#008000"/>
<path d="M1689.42 808.38L1684.72 798.98H1694.12Z" fill="#008000"/>
<path d="M1664.61 852.12L1659.91 842.72H1669.31Z" fill="#008000"/>
<path d="M1695.74 895.86L1691.04 886.46H1700.44Z" fill="#008000"/>
<path d="M1691.99 939.6L1687.29 930.2H1696.69Z" fill="#008000"/>
<path d="M1701.36 983.34L1696.66 973.94H1706.06Z" fill="#008000"/>
<path d="M1689.89 1027.08L1685.19 1017.68H1694.59Z" fill="#008000"/>
<path d="M1759.4 1070.82L1754.7 1061.42H1764.1Z" fill="#008000"/>
<path d="M1694.57 1114.56L1689.87 1105.16H1699.27Z" fill="#008000"/>
<path d="M1668.36 1158.3L1663.66 1148.9H1673.06Z" fill="#008000"/>
<path d="M1686.38 1202.04L1681.68 1192.64H1691.08Z" fill="#008000"/>
<path d="M1700.42 1245.78L1695.72 1236.38H1705.12Z" fill="#008000"/>
<path d="M1712.12 1289.52L1707.42 1280.12H1716.82Z" fill="#008000"/>
<path d="M1714.23 1333.26L1709.53 1323.86H1718.93Z" fill="#008000"/>
<path d="M1710.02 1377L1705.32 1367.6H1714.72Z" fill="#008000"/>
<path d="M1706.27 1420.74L1701.57 1411.34H1710.97Z" fill="#008000"/>
<path d="M1685.68 1464.48L1680.98 1455.08H1690.38Z" fill="#008000"/>
<path d="M1745.35 1508.22L1740.65 1498.82H1750.05Z" fill="#008000"/>
<path d="M1706.5 1551.96L1701.8 1542.56H1711.2Z" fill="#008000"/>
<rect x="1671.11" y="493" width="9" height="9" fill="#0000ff"/>
<rect x="1709.96" y="536.74" width="9" height="9" fill="#0000ff"/>
<rect x="1764.96" y="580.48" width="9" height="9" fill="#0000ff"/>
<rect x="1732.9" y="624.22" width="9" height="9" fill="#0000ff"/>
<rect x="1681.64" y="667.96" width="9" height="9" fill="#0000ff"/>
<rect x="1720.96" y="711.7" width="9" height="9" fill="#0000ff"/>
<rect x="1724" y="755.44" width="9" height="9" fill="#0000ff"/>
<rect x="1702.47" y="799.18" width="9" height="9" fill="#0000ff"/>
<rect x="1680.94" y="842.92" width="9" height="9" fill="#0000ff"/>
<rect x="1710.9" y="886.66" width="9" height="9" fill="#0000ff"/>
<rect x="1795.85" y="930.4" width="9" height="9" fill="#0000ff"/>
<rect x="1704.58" y="974.14" width="9" height="9" fill="#0000ff"/>
<rect x="1694.28" y="1017.88" width="9" height="9" fill="#0000ff"/>
<rect x="1769.87" y="1061.62" width="9" height="9" fill="#0000ff"/>
<rect x="1697.09" y="1105.36" width="9" height="9" fill="#0000ff"/>
<rect x="1680.94" y="1149.1" width="9" height="9" fill="#0000ff"/>
<rect x="1693.35" y="1192.84" width="9" height="9" fill="#0000ff"/>
<rect x="1695.92" y="1236.58" width="9" height="9" fill="#0000ff"/>
<rect x="1686.09" y="1280.32" width="9" height="9" fill="#0000ff"/>
<rect x="1704.11" y="1324.06" width="9" height="9" fill="#0000ff"/>
<rect x="1696.62" y="1367.8" width="9" height="9" fill="#0000ff"/>
<rect x="1683.05" y="1411.54" width="9" height="9" fill="#0000ff"/>
<rect x="1665.03" y="1455.28" width="9" height="9" fill="#0000ff"/>
<rect x="1697.56" y="1499.02" width="9" height="9" fill="#0000ff"/>
<rect x="1699.43" y="1542.76" width="9" height="9" fill="#0000ff"/>
<path d="M1800.33 497.5L1809.73 492.8V502.2Z" fill="#bfbf00"/>
<path d="M1773.89 541.24L1783.29 536.54V545.94Z" fill="#bfbf00"/>
<path d="M1822.33 584.98L1831.73 580.28V589.68Z" fill="#bfbf00"/>
<path d="M1819.29 628.72L1828.69 624.02V633.42Z" fill="#bfbf00"/>
<path d="M1696.66 672.46L1706.06 667.76V677.16Z" fill="#bfbf00"/>
<path d="M1797.76 716.2L1807.16 711.5V720.9Z" fill="#bfbf00"/>
<path d="M1798.46 759.94L1807.86 755.24V764.64Z" fill="#bfbf00"/>
<path d="M1768.27 803.68L1777.67 798.98V808.38Z" fill="#bfbf00"/>
<path d="M1796.59 847.42L1805.99 842.72V852.12Z" fill="#bfbf00"/>
<path d="M1799.4 891.16L1808.8 886.46V895.86Z" fill="#bfbf00"/>
<path d="M1840.82 934.9L1850.22 930.2V939.6Z" fill="#bfbf00"/>
<path d="M1680.98 978.64L1690.38 973.94V983.34Z" fill="#bfbf00"/>
<path d="M1739.25 1022.38L1748.65 1017.68V1027.08Z" fill="#bfbf00"/>
<path d="M1810.86 1066.12L1820.26 1061.42V1070.82Z" fill="#bfbf00"/>
<path d="M1791.2 1109.86L1800.6 1105.16V1114.56Z" fill="#bfbf00"/>
<path d="M1804.78 1153.6L1814.18 1148.9V1158.3Z" fill="#bfbf00"/>
<path d="M1825.61 1197.34L1835.01 1192.64V1202.04Z" fill="#bfbf00"/>
<path d="M1826.54 1241.08L1835.94 1236.38V1245.78Z" fill="#bfbf00"/>
<path d="M1865.86 1284.82L1875.26 1280.12V1289.52Z" fill="#bfbf00"/>
<path d="M1591.58 1328.56L1600.98 1323.86V1333.26Z" fill="#bfbf00"/>
<path d="M1789.8 1372.3L1799.2 1367.6V1377Z" fill="#bfbf00"/>
<path d="M1790.97 1416.04L1800.37 1411.34V1420.74Z" fill="#bfbf00"/>
<path d="M1712.1 1459.78L1721.5 1455.08V1464.48Z" fill="#bfbf00"/>
<path d="M1810.16 1503.52L1819.56 1498.82V1508.22Z" fill="#bfbf00"/>
<path d="M1842.46 1547.26L1851.86 1542.56V1551.96Z" fill="#bfbf00"/>
<path d="M1872.9 497.5H1907.3" stroke="#bf00bf" stroke-width="2.7" fill="none"/>
<circle cx="1889.99" cy="497.5" r="5.4" fill="#bf00bf"/>
<path d="M1872.2 541.24H1893.73" stroke="#bf00bf" stroke-width="2.7" fill="none"/>
<circle cx="1882.73" cy="541.24" r="5.4" fill="#bf00bf"/>
<path d="M1839.67 584.98H1926.03" stroke="#bf00bf" stroke-width="2.7" fill="none"/>
<circle cx="1882.73" cy="584.98" r="5.4" fill="#bf00bf"/>
<path d="M1863.31 628.72H1901.92" stroke="#bf00bf" stroke-width="2.7" fill="none"/>
<circle cx="1882.26" cy="628.72" r="5.4" fill="#bf00bf"/>
<path d="M1868.22 672.46H1895.84" stroke="#bf00bf" stroke-width="2.7" fill="none"/>
<circle cx="1881.79" cy="672.46" r="5.4" fill="#bf00bf"/>
<path d="M1866.82 716.2H1897.24" stroke="#bf00bf" stroke-width="2.7" fill="none"/>
<circle cx="1881.79" cy="716.2" r="5.4" fill="#bf00bf"/>
<circle cx="1881.33" cy="759.94" r="5.4" fill="#bf00bf"/>
<path d="M1839.67 803.68H1916.9" stroke="#bf00bf" stroke-width="2.7" fill="none"/>
<circle cx="1877.82" cy="803.68" r="5.4" fill="#bf00bf"/>
<path d="M1845.29 847.42H1910.58" stroke="#bf00bf" stroke-width="2.7" fill="none"/>
<circle cx="1877.82" cy="847.42" r="5.4" fill="#bf00bf"/>
<path d="M1856.05 891.16H1886.71" stroke="#bf00bf" stroke-width="2.7" fill="none"/>
<circle cx="1871.26" cy="891.16" r="5.4" fill="#bf00bf"/>
<path d="M1849.5 934.9H1891.16" stroke="#bf00bf" stroke-width="2.7" fill="none"/>
<circle cx="1870.8" cy="934.9" r="5.4" fill="#bf00bf"/>
<circle cx="1869.63" cy="978.64" r="5.4" fill="#bf00bf"/>
<path d="M1843.41 1022.38H1893.73" stroke="#bf00bf" stroke-width="2.7" fill="none"/>
<circle cx="1868.45" cy="1022.38" r="5.4" fill="#bf00bf"/>
<path d="M1836.39 1066.12H1900.52" stroke="#bf00bf" stroke-width="2.7" fill="none"/>
<circle cx="1868.22" cy="1066.12" r="5.4" fill="#bf00bf"/>
<path d="M1859.09 1109.86H1875.94" stroke="#bf00bf" stroke-width="2.7" fill="none"/>
<circle cx="1867.52" cy="1109.86" r="5.4" fill="#bf00bf"/>
<path d="M1850.43 1153.6H1882.5" stroke="#bf00bf" stroke-width="2.7" fill="none"/>
<circle cx="1866.58" cy="1153.6" r="5.4" fill="#bf00bf"/>
<path d="M1855.82 1197.34H1872.67" stroke="#bf00bf" stroke-width="2.7" fill="none"/>
<circle cx="1864.24" cy="1197.34" r="5.4" fill="#bf00bf"/>
<circle cx="1860.03" cy="1241.08" r="5.4" fill="#bf00bf"/>
<path d="M1848.8 1284.82H1870.56" stroke="#bf00bf" stroke-width="2.7" fill="none"/>
<circle cx="1859.8" cy="1284.82" r="5.4" fill="#bf00bf"/>
<path d="M1849.26 1328.56H1868.22" stroke="#bf00bf" stroke-width="2.7" fill="none"/>
<circle cx="1858.86" cy="1328.56" r="5.4" fill="#bf00bf"/>
<circle cx="1854.65" cy="1372.3" r="5.4" fill="#bf00bf"/>
<path d="M1834.99 1416.04H1870.09" stroke="#bf00bf" stroke-width="2.7" fill="none"/>
<circle cx="1852.54" cy="1416.04" r="5.4" fill="#bf00bf"/>
<path d="M1831.24 1459.78H1872.9" stroke="#bf00bf" stroke-width="2.7" fill="none"/>
<circle cx="1851.37" cy="1459.78" r="5.4" fill="#bf00bf"/>
<path d="M1824.22 1503.52H1878.75" stroke="#bf00bf" stroke-width="2.7" fill="none"/>
<circle cx="1850.9" cy="1503.52" r="5.4" fill="#bf00bf"/>
<path d="M1838.26 1547.26H1854.18" stroke="#bf00bf" stroke-width="2.7" fill="none"/>
<circle cx="1845.99" cy="1547.26" r="5.4" fill="#bf00bf"/>
</g>
<rect x="1872.9" y="1407.6" width="167.2" height="181.4" rx="4" ry="4" fill="#fff" fill-opacity="0.8" stroke="#d2d2d2" stroke-width="1.35"/>
<path d="M1905.2 1425.4L1895.8 1420.7V1430.1Z" fill="#00bfbf"/>
<text x="1936.4" y="1430.7" font-size="20" fill="#000">CheXzero</text>
<path d="M1900.5 1450.35L1901.65 1453.42L1904.92 1453.56L1902.36 1455.6L1903.23 1458.76L1900.5 1456.95L1897.77 1458.76L1898.64 1455.6L1896.08 1453.56L1899.35 1453.42Z" fill="#ff0000"/>
<text x="1936.4" y="1460" font-size="20" fill="#000">BioVIL</text>
<path d="M1900.5 1488.7L1895.8 1479.3H1905.2Z" fill="#008000"/>
<text x="1936.4" y="1489.3" font-size="20" fill="#000">GLoRIA</text>
<rect x="1896" y="1508.8" width="9" height="9" fill="#0000ff"/>
<text x="1936.4" y="1518.6" font-size="20" fill="#000">ConVIRT</text>
<path d="M1895.8 1542.6L1905.2 1537.9V1547.3Z" fill="#bfbf00"/>
<text x="1936.4" y="1547.9" font-size="20" fill="#000">MedKLIP</text>
<path d="M1890 1570.3H1911" stroke="#bf00bf" stroke-width="2.7" fill="none"/>
<circle cx="1900.5" cy="1570.3" r="5.4" fill="#bf00bf"/>
<text x="1936.4" y="1577.2" font-size="20" fill="#000">KAD</text>
<path d="M1584.8 444.2V1599.2H2051.5" stroke="#000" stroke-width="1.7" fill="none" stroke-linecap="square"/>
<g stroke="#000" stroke-width="1.0" fill="none">
<path d="M1584.8 497.5h-3.6"/>
<path d="M1584.8 541.24h-3.6"/>
<path d="M1584.8 584.98h-3.6"/>
<path d="M1584.8 628.72h-3.6"/>
<path d="M1584.8 672.46h-3.6"/>
<path d="M1584.8 716.2h-3.6"/>
<path d="M1584.8 759.94h-3.6"/>
<path d="M1584.8 803.68h-3.6"/>
<path d="M1584.8 847.42h-3.6"/>
<path d="M1584.8 891.16h-3.6"/>
<path d="M1584.8 934.9h-3.6"/>
<path d="M1584.8 978.64h-3.6"/>
<path d="M1584.8 1022.38h-3.6"/>
<path d="M1584.8 1066.12h-3.6"/>
<path d="M1584.8 1109.86h-3.6"/>
<path d="M1584.8 1153.6h-3.6"/>
<path d="M1584.8 1197.34h-3.6"/>
<path d="M1584.8 1241.08h-3.6"/>
<path d="M1584.8 1284.82h-3.6"/>
<path d="M1584.8 1328.56h-3.6"/>
<path d="M1584.8 1372.3h-3.6"/>
<path d="M1584.8 1416.04h-3.6"/>
<path d="M1584.8 1459.78h-3.6"/>
<path d="M1584.8 1503.52h-3.6"/>
<path d="M1584.8 1547.26h-3.6"/>
<path d="M1584.8 1599.2v3.6"/>
<path d="M1642.91 1599.2v3.6"/>
<path d="M1701.03 1599.2v3.6"/>
<path d="M1759.14 1599.2v3.6"/>
<path d="M1817.26 1599.2v3.6"/>
<path d="M1875.37 1599.2v3.6"/>
<path d="M1933.49 1599.2v3.6"/>
<path d="M1991.6 1599.2v3.6"/>
</g>
<g class="big" font-size="26.67" text-anchor="end" fill="#000">
<text x="1578.8" y="508.2">humeral fracture (n = 81)</text>
<text x="1578.8" y="551.94">hilar congestion (n = 601)</text>
<text x="1578.8" y="595.68">tuberculosis (n = 59)</text>
<text x="1578.8" y="639.42">vertebral fracture (n = 104)</text>
<text x="1578.8" y="683.16">calcified pleural thickening (n = 102)</text>
<text x="1578.8" y="726.9">bullas (n = 192)</text>
<text x="1578.8" y="770.64">kyphosis (n = 1493)</text>
<text x="1578.8" y="814.38">reticulonodular interstitial pattern (n = 51)</text>
<text x="1578.8" y="858.12">bone metastasis (n = 50)</text>
<text x="1578.8" y="901.86">osteopenia (n = 235)</text>
<text x="1578.8" y="945.6">osteoporosis (n = 99)</text>
<text x="1578.8" y="989.34">COPD signs (n = 4823)</text>
<text x="1578.8" y="1033.08">surgery lung (n = 63)</text>
<text x="1578.8" y="1076.82">central vascular redistribution (n = 63)</text>
<text x="1578.8" y="1120.56">laminar atelectasis (n = 1378)</text>
<text x="1578.8" y="1164.3">lobar atelectasis (n = 168)</text>
<text x="1578.8" y="1208.04">volume loss (n = 759)</text>
<text x="1578.8" y="1251.78">bronchiectasis (n = 667)</text>
<text x="1578.8" y="1295.52">tuberculosis sequelae (n = 185)</text>
<text x="1578.8" y="1339.26">suboptimal study (n = 545)</text>
<text x="1578.8" y="1383">aortic atheromatosis (n = 1566)</text>
<text x="1578.8" y="1426.74">rib fracture (n = 140)</text>
<text x="1578.8" y="1470.48">non axial OA changes (n = 95)</text>
<text x="1578.8" y="1514.22">CVC (n = 94)</text>
<text x="1578.8" y="1557.96">hemidiaphragm elevation (n = 669)</text>
</g>
<g class="big" font-size="26.67" text-anchor="middle" fill="#000">
<text x="1584.8" y="1625.2">0.3</text>
<text x="1642.91" y="1625.2">0.4</text>
<text x="1701.03" y="1625.2">0.5</text>
<text x="1759.14" y="1625.2">0.6</text>
<text x="1817.26" y="1625.2">0.7</text>
<text x="1875.37" y="1625.2">0.8</text>
<text x="1933.49" y="1625.2">0.9</text>
<text x="1991.6" y="1625.2">1.0</text>
<text x="1817.35" y="1654.9">AUC</text>
</g>
</svg>
</body></html>
